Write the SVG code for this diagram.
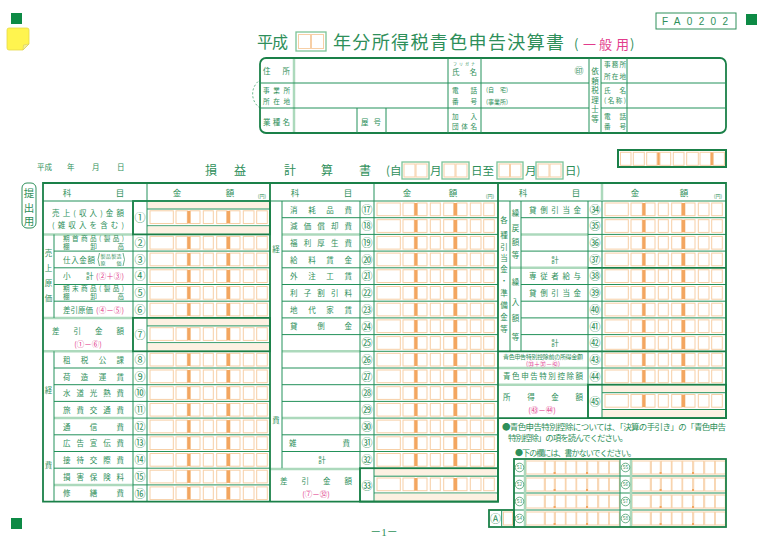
<svg xmlns="http://www.w3.org/2000/svg" width="768" height="542" viewBox="0 0 768 542">
<style>
text{font-family:"Noto Sans CJK JP","Noto Sans",sans-serif;fill:#2e8f5a}
.l{font-size:8.5px}
.s{font-size:7.5px}
.t2{font-size:6.6px}
.xs{font-size:6px}
.n{font-size:11px;text-anchor:middle}
.m{text-anchor:middle}
.pk{fill:#e23b8c}
.g{stroke:#23915a;stroke-width:1;fill:none}
.gt{stroke:#1a8048;stroke-width:1.8;fill:none}
.pl{stroke:#acd9bc;stroke-width:2.5;fill:none}
.c{fill:#fff;stroke:#f7cfa6;stroke-width:1}
.bar{fill:#f3a660}
.pe{fill:#fdf1e2}
.sq{fill:#0d8a45}
.db{fill:#fff;stroke:#7cc497;stroke-width:1.3}
</style>
<defs>
<g id="d1">
<rect class="c" x="3" y="2" width="23.3" height="12.7"/>
<rect class="c" x="29" y="2" width="11.3" height="12.7"/>
<rect class="c" x="43.3" y="2" width="9.7" height="12.7"/>
<rect class="c" x="56.3" y="2" width="10" height="12.7"/>
<rect class="c" x="69.7" y="2" width="10" height="12.7"/>
<rect class="c" x="83" y="2" width="10" height="12.7"/>
<rect class="c" x="96.3" y="2" width="10.7" height="12.7"/>
<rect class="c" x="109.7" y="2" width="10.6" height="12.7"/>
<rect class="bar" x="40.3" y="2" width="3" height="12.7"/>
<rect class="bar" x="79.7" y="2" width="3.3" height="12.7"/>
</g>
<g id="d2">
<rect class="pe" x="0.5" y="0.8" width="122" height="6.7"/>
<line class="g" x1="0" y1="8" x2="123" y2="8"/>
<use href="#d1" y="7.8"/>
<line class="g" x1="0" y1="24.8" x2="123" y2="24.8"/>
<rect class="pe" x="0.5" y="25.5" width="122" height="7.4"/>
</g>
<g id="d3">
<rect class="c" x="1" y="2" width="18.3" height="13"/>
<rect class="c" x="20.3" y="2" width="9" height="13"/>
<rect class="c" x="30.3" y="2" width="10" height="13"/>
<rect class="c" x="41" y="2" width="10" height="13"/>
<rect class="c" x="51.7" y="2" width="10" height="13"/>
<rect class="c" x="62.7" y="2" width="10" height="13"/>
<rect class="c" x="73.7" y="2" width="10" height="13"/>
<rect class="c" x="84.3" y="2" width="10" height="13"/>
<rect class="bar" x="28.6" y="13" width="2" height="2"/>
<rect class="bar" x="61" y="13" width="2" height="2"/>
</g>
</defs>

<g id="marks">
<rect class="sq" x="11" y="13" width="11" height="11"/>
<rect class="sq" x="746" y="14" width="11" height="11"/>
<rect class="sq" x="11" y="518" width="11" height="11"/>
<path d="M9,28 H27 Q29,28 29,30 V44 L23,50 H9 Q7,50 7,48 V30 Q7,28 9,28 Z" fill="#fff44f" stroke="#e6d94a" stroke-width="0.8"/>
<path d="M29,44 L23,50 L23.5,45 Z" fill="#f3ee9a" stroke="#d9cc60" stroke-width="0.6"/>
</g>

<g id="code-box">
<rect x="656" y="13" width="80" height="16" fill="none" stroke="#2e8f5a" stroke-width="1"/>
<text x="662" y="25" textLength="66" style="font-family:'Liberation Sans',sans-serif;font-size:10px">FA0202</text>
</g>

<g id="title">
<text x="257" y="48" font-size="16" textLength="31">平成</text>
<rect x="296" y="32" width="30" height="19" class="db"/>
<rect x="298.5" y="34.5" width="12" height="14" class="c"/>
<rect x="311.5" y="34.5" width="12" height="14" class="c"/>
<text x="333" y="49" font-size="18" textLength="231">年分所得税青色申告決算書</text>
<text y="49" font-size="13"><tspan x="574">(</tspan><tspan x="583" class="pk">一</tspan><tspan x="599" class="pk">般</tspan><tspan x="616" class="pk">用</tspan><tspan x="630">)</tspan></text>
</g>

<g id="info-box">
<path d="M260,108 A17,17 0 0 1 260,80" fill="none" stroke="#4aa874" stroke-width="0.9" stroke-dasharray="2,2"/>
<rect x="260" y="58" width="466" height="75" rx="6" class="gt" stroke-width="1.5"/>
<line class="pl" x1="294" y1="59" x2="294" y2="132"/>
<line class="g" x1="448" y1="58" x2="448" y2="133"/>
<line class="g" x1="481" y1="58" x2="481" y2="133"/>
<line class="g" x1="589" y1="58" x2="589" y2="133"/>
<line class="g" x1="601" y1="58" x2="601" y2="133"/>
<line class="g" x1="627" y1="58" x2="627" y2="133"/>
<line class="g" x1="260" y1="83" x2="589" y2="83"/>
<line class="g" x1="601" y1="83" x2="726" y2="83"/>
<line class="g" x1="260" y1="108" x2="589" y2="108"/>
<line class="g" x1="601" y1="108" x2="726" y2="108"/>
<line class="g" x1="357" y1="108" x2="357" y2="133"/>
<line class="g" x1="386" y1="108" x2="386" y2="133"/>
<text class="s" x="263" y="73.5" textLength="27">住所</text>
<text class="t2" x="263" y="93" textLength="27">事業所</text>
<text class="t2" x="263" y="103.5" textLength="27">所在地</text>
<text class="s" x="263" y="124.5" textLength="27">業種名</text>
<text class="s" x="361" y="124.5" textLength="20">屋号</text>
<text x="453" y="66" font-size="4" textLength="22">フリガナ</text>
<text class="s" x="452" y="75" textLength="25">氏名</text>
<text x="579" y="73.5" font-size="9" class="m">㊞</text>
<text class="t2" x="452" y="92.5" textLength="25">電話</text>
<text class="t2" x="452" y="103.5" textLength="25">番号</text>
<text class="xs" x="486" y="92" textLength="22">(自　宅)</text>
<text class="xs" x="486" y="103.5" textLength="22">(事業所)</text>
<text class="t2" x="452" y="118.5" textLength="25">加入</text>
<text class="t2" x="452" y="129" textLength="25">団体名</text>
<text class="s m" x="595" y="74">依</text>
<text class="s m" x="595" y="83.5">頼</text>
<text class="s m" x="595" y="93">税</text>
<text class="s m" x="595" y="102.5">理</text>
<text class="s m" x="595" y="112">士</text>
<text class="s m" x="595" y="121.5">等</text>
<text class="t2" x="604" y="67" textLength="22">事務所</text>
<text class="t2" x="604" y="78.5" textLength="22">所在地</text>
<text class="t2" x="604" y="92.5" textLength="22">氏名</text>
<text class="t2" x="604" y="103" textLength="22">(名称)</text>
<text class="t2" x="604" y="118.5" textLength="22">電話</text>
<text class="t2" x="604" y="129" textLength="22">番号</text>
</g>

<g id="date-line">
<text class="s" x="37" y="170">平成</text>
<text class="s" x="67" y="170">年</text>
<text class="s" x="92" y="170">月</text>
<text class="s" x="117" y="170">日</text>
<text class="m" font-size="12" x="211" y="175">損</text>
<text class="m" font-size="12" x="240" y="175">益</text>
<text class="m" font-size="12" x="290" y="175">計</text>
<text class="m" font-size="12" x="327" y="175">算</text>
<text class="m" font-size="12" x="365" y="175">書</text>
<text font-size="11.5" x="386" y="175">(自</text>
<rect x="402" y="162" width="27" height="17" class="db"/>
<rect x="404" y="164" width="11" height="13" class="c"/>
<rect x="416" y="164" width="11" height="13" class="c"/>
<text font-size="11.5" x="430" y="175">月</text>
<rect x="442" y="162" width="27" height="17" class="db"/>
<rect x="444" y="164" width="11" height="13" class="c"/>
<rect x="456" y="164" width="11" height="13" class="c"/>
<text font-size="11.5" x="471" y="175">日至</text>
<rect x="497" y="162" width="26" height="17" class="db"/>
<rect x="499" y="164" width="10.5" height="13" class="c"/>
<rect x="510.5" y="164" width="10.5" height="13" class="c"/>
<text font-size="11.5" x="525" y="175">月</text>
<rect x="536" y="162" width="27" height="17" class="db"/>
<rect x="538" y="164" width="11" height="13" class="c"/>
<rect x="550" y="164" width="11" height="13" class="c"/>
<text font-size="11.5" x="565" y="175">日)</text>
</g>

<g id="top-digits">
<rect x="618" y="150" width="108" height="17" fill="#fff" stroke="#1a8048" stroke-width="2"/>
<rect class="c" x="620.5" y="152.3" width="10.5" height="13"/>
<rect class="c" x="633.3" y="152.3" width="11" height="13"/>
<rect class="c" x="646.7" y="152.3" width="10.3" height="13"/>
<rect class="bar" x="657.3" y="152.3" width="2.7" height="13"/>
<rect class="c" x="660" y="152.3" width="10.7" height="13"/>
<rect class="c" x="673.3" y="152.3" width="10.7" height="13"/>
<rect class="c" x="686.7" y="152.3" width="11.6" height="13"/>
<rect class="c" x="700" y="152.3" width="10.7" height="13"/>
<rect class="bar" x="710.7" y="152.3" width="2.7" height="13"/>
<rect class="c" x="713.4" y="152.3" width="11" height="13"/>
</g>

<g id="submit-tag">
<rect x="22" y="183" width="14" height="45" rx="5" fill="none" stroke="#2e8f5a" stroke-width="1"/>
<text class="m" font-size="10.5" x="29" y="197">提</text>
<text class="m" font-size="10.5" x="29" y="211.5">出</text>
<text class="m" font-size="10.5" x="29" y="225">用</text>
</g>

<g id="digit-cells">
<use href="#d2" x="147" y="201"/>
<use href="#d1" x="147" y="234.4"/>
<use href="#d1" x="147" y="251.1"/>
<use href="#d1" x="147" y="267.8"/>
<use href="#d1" x="147" y="284.5"/>
<use href="#d1" x="147" y="301.2"/>
<use href="#d2" x="147" y="317.9"/>
<use href="#d1" x="147" y="351.3"/>
<use href="#d1" x="147" y="368"/>
<use href="#d1" x="147" y="384.7"/>
<use href="#d1" x="147" y="401.4"/>
<use href="#d1" x="147" y="418.1"/>
<use href="#d1" x="147" y="434.8"/>
<use href="#d1" x="147" y="451.5"/>
<use href="#d1" x="147" y="468.2"/>
<use href="#d1" x="147" y="484.9"/>
<use href="#d1" x="374" y="201"/>
<use href="#d1" x="374" y="217.7"/>
<use href="#d1" x="374" y="234.4"/>
<use href="#d1" x="374" y="251.1"/>
<use href="#d1" x="374" y="267.8"/>
<use href="#d1" x="374" y="284.5"/>
<use href="#d1" x="374" y="301.2"/>
<use href="#d1" x="374" y="317.9"/>
<use href="#d1" x="374" y="334.6"/>
<use href="#d1" x="374" y="351.3"/>
<use href="#d1" x="374" y="368"/>
<use href="#d1" x="374" y="384.7"/>
<use href="#d1" x="374" y="401.4"/>
<use href="#d1" x="374" y="418.1"/>
<use href="#d1" x="374" y="434.8"/>
<use href="#d1" x="374" y="451.5"/>
<use href="#d2" x="374" y="468.2"/>
<use href="#d1" x="602" y="201"/>
<use href="#d1" x="602" y="217.7"/>
<use href="#d1" x="602" y="234.4"/>
<use href="#d1" x="602" y="251.1"/>
<use href="#d1" x="602" y="267.8"/>
<use href="#d1" x="602" y="284.5"/>
<use href="#d1" x="602" y="301.2"/>
<use href="#d1" x="602" y="317.9"/>
<use href="#d1" x="602" y="334.6"/>
<use href="#d1" x="602" y="351.3"/>
<use href="#d1" x="602" y="368"/>
<use href="#d2" x="602" y="384.7"/>
</g>

<g id="connectors">
<line class="g" x1="54" y1="251.1" x2="270" y2="251.1"/>
<line class="g" x1="54" y1="267.8" x2="270" y2="267.8"/>
<line class="g" x1="54" y1="284.5" x2="270" y2="284.5"/>
<line class="g" x1="54" y1="301.2" x2="270" y2="301.2"/>
<line class="pl" x1="43" y1="234.4" x2="133" y2="234.4"/>
<line class="pl" x1="43" y1="317.9" x2="133" y2="317.9"/>
<line class="pl" x1="43" y1="351.3" x2="133" y2="351.3"/>
<line class="g" x1="54" y1="368" x2="270" y2="368"/>
<line class="g" x1="54" y1="384.7" x2="270" y2="384.7"/>
<line class="g" x1="54" y1="401.4" x2="270" y2="401.4"/>
<line class="pl" x1="54" y1="418.1" x2="133" y2="418.1"/>
<line class="g" x1="133" y1="418.1" x2="270" y2="418.1"/>
<line class="g" x1="54" y1="434.8" x2="270" y2="434.8"/>
<line class="g" x1="54" y1="451.5" x2="270" y2="451.5"/>
<line class="g" x1="54" y1="468.2" x2="270" y2="468.2"/>
<line class="pl" x1="54" y1="484.9" x2="133" y2="484.9"/>
<line class="g" x1="133" y1="484.9" x2="270" y2="484.9"/>
<line class="g" x1="54" y1="234.4" x2="54" y2="317.9"/>
<line class="g" x1="54" y1="351.3" x2="54" y2="501.6"/>
<line class="g" x1="133" y1="201" x2="133" y2="501.6"/>
<line class="g" x1="147" y1="183" x2="147" y2="501.6"/>
<rect class="gt" x="133" y="201" width="137" height="33.4"/>
<rect class="gt" x="133" y="317.9" width="137" height="33.4"/>
<line class="g" x1="282" y1="217.7" x2="498" y2="217.7"/>
<line class="pl" x1="282" y1="234.4" x2="360" y2="234.4"/>
<line class="g" x1="360" y1="234.4" x2="498" y2="234.4"/>
<line class="g" x1="282" y1="251.1" x2="498" y2="251.1"/>
<line class="g" x1="282" y1="267.8" x2="498" y2="267.8"/>
<line class="g" x1="282" y1="284.5" x2="498" y2="284.5"/>
<line class="g" x1="282" y1="301.2" x2="498" y2="301.2"/>
<line class="g" x1="282" y1="317.9" x2="498" y2="317.9"/>
<line class="g" x1="282" y1="334.6" x2="498" y2="334.6"/>
<line class="pl" x1="282" y1="351.3" x2="360" y2="351.3"/>
<line class="g" x1="360" y1="351.3" x2="498" y2="351.3"/>
<line class="g" x1="282" y1="368" x2="498" y2="368"/>
<line class="g" x1="282" y1="384.7" x2="498" y2="384.7"/>
<line class="g" x1="282" y1="401.4" x2="498" y2="401.4"/>
<line class="pl" x1="282" y1="418.1" x2="360" y2="418.1"/>
<line class="g" x1="360" y1="418.1" x2="498" y2="418.1"/>
<line class="g" x1="282" y1="434.8" x2="498" y2="434.8"/>
<line class="g" x1="282" y1="451.5" x2="498" y2="451.5"/>
<line class="pl" x1="270" y1="469" x2="360" y2="469"/>
<line class="g" x1="282" y1="201" x2="282" y2="468.2"/>
<line class="g" x1="360" y1="201" x2="360" y2="501.6"/>
<line class="g" x1="374" y1="183" x2="374" y2="501.6"/>
<rect class="gt" x="360" y="468.2" width="138" height="33.4"/>
<line class="g" x1="521" y1="217.7" x2="726" y2="217.7"/>
<line class="pl" x1="521" y1="234.4" x2="588" y2="234.4"/>
<line class="g" x1="588" y1="234.4" x2="726" y2="234.4"/>
<line class="g" x1="521" y1="251.1" x2="726" y2="251.1"/>
<line class="pl" x1="510" y1="267.8" x2="588" y2="267.8"/>
<line class="gt" x1="588" y1="267.8" x2="726" y2="267.8"/>
<line class="g" x1="521" y1="284.5" x2="726" y2="284.5"/>
<line class="g" x1="521" y1="301.2" x2="726" y2="301.2"/>
<line class="g" x1="521" y1="317.9" x2="726" y2="317.9"/>
<line class="g" x1="521" y1="334.6" x2="726" y2="334.6"/>
<line class="gt" x1="498" y1="351.3" x2="726" y2="351.3"/>
<line class="pl" x1="498" y1="368" x2="588" y2="368"/>
<line class="g" x1="588" y1="368" x2="726" y2="368"/>
<line class="pl" x1="498" y1="384.7" x2="588" y2="384.7"/>
<line class="g" x1="510" y1="201" x2="510" y2="351.3"/>
<line class="g" x1="521" y1="201" x2="521" y2="351.3"/>
<line class="g" x1="588" y1="201" x2="588" y2="418.1"/>
<line class="pl" x1="602" y1="184" x2="602" y2="200"/>
<line class="g" x1="602" y1="201" x2="602" y2="418.1"/>
<rect class="gt" x="588" y="384.7" width="138" height="33.4"/>
<line class="g" x1="43" y1="201" x2="726" y2="201" stroke-width="1.5"/>
<line class="gt" x1="270" y1="183" x2="270" y2="501.6"/>
<line class="gt" x1="498" y1="183" x2="498" y2="501.6"/>
<path class="gt" d="M43,183 H726 V418.1 H498 V501.6 H43 Z"/>
</g>

<g id="headers">
<text class="l m" x="67" y="195.5">科</text>
<text class="l m" x="120" y="195.5">目</text>
<text class="l m" x="177" y="195.5">金</text>
<text class="l m" x="230" y="195.5">額</text>
<text class="m" font-size="5" x="262" y="197.5">(円)</text>
<text class="l m" x="295" y="195.5">科</text>
<text class="l m" x="348" y="195.5">目</text>
<text class="l m" x="407" y="195.5">金</text>
<text class="l m" x="453" y="195.5">額</text>
<text class="m" font-size="5" x="490" y="197.5">(円)</text>
<text class="l m" x="523" y="195.5">科</text>
<text class="l m" x="576" y="195.5">目</text>
<text class="l m" x="635" y="195.5">金</text>
<text class="l m" x="684" y="195.5">額</text>
<text class="m" font-size="5" x="718" y="197.5">(円)</text>
</g>

<g id="labels-left">
<text class="s" x="52" y="215.9" textLength="72">売上(収入)金額</text>
<text class="s" x="52" y="228.2" textLength="72">(雑収入を含む)</text>
<text class="s m" x="48.5" y="256">売</text>
<text class="s m" x="48.5" y="271">上</text>
<text class="s m" x="48.5" y="286">原</text>
<text class="s m" x="48.5" y="301">価</text>
<text class="t2" x="63" y="240.6" textLength="61">期首商品(製品)</text>
<text class="t2" x="63" y="249.3" textLength="61">棚卸高</text>
<text class="s" x="63" y="262.5" textLength="32">仕入金額</text>
<path d="M99.5,253 Q96.5,259.5 99.5,266 M123,253 Q126,259.5 123,266" fill="none" stroke="#2e8f5a" stroke-width="0.7"/>
<text x="100.5" y="258.3" font-size="5" textLength="21">製品製造</text>
<text x="100.5" y="265" font-size="5" textLength="21">原　価</text>
<text class="s" x="63" y="279.4">小</text>
<text class="s" x="86" y="279.4">計</text>
<text class="s pk" x="96" y="279.4" textLength="28">(②＋③)</text>
<text class="t2" x="63" y="290.7" textLength="61">期末商品(製品)</text>
<text class="t2" x="63" y="299.4" textLength="61">棚卸高</text>
<text class="s" x="63" y="312.7" textLength="30">差引原価</text>
<text class="s pk" x="96" y="312.7" textLength="28">(④－⑤)</text>
<text class="s" x="52" y="333.5" textLength="72">差引金額</text>
<text class="s pk m" x="88" y="346.5">(①－⑥)</text>
<text class="s m" x="48.5" y="393">経</text>
<text class="s m" x="48.5" y="468">費</text>
<text class="s" x="63" y="362.8" textLength="61">租税公課</text>
<text class="s" x="63" y="379.5" textLength="61">荷造運賃</text>
<text class="s" x="63" y="396.2" textLength="61">水道光熱費</text>
<text class="s" x="63" y="412.9" textLength="61">旅費交通費</text>
<text class="s" x="63" y="429.6" textLength="61">通信費</text>
<text class="s" x="63" y="446.3" textLength="61">広告宣伝費</text>
<text class="s" x="63" y="463" textLength="61">接待交際費</text>
<text class="s" x="63" y="479.7" textLength="61">損害保険料</text>
<text class="s" x="63" y="496.4" textLength="61">修繕費</text>
<text class="n" x="140" y="222">①</text>
<text class="n" x="140" y="247">②</text>
<text class="n" x="140" y="263.7">③</text>
<text class="n" x="140" y="280.4">④</text>
<text class="n" x="140" y="297.1">⑤</text>
<text class="n" x="140" y="313.8">⑥</text>
<text class="n" x="140" y="338.9">⑦</text>
<text class="n" x="140" y="363.9">⑧</text>
<text class="n" x="140" y="380.6">⑨</text>
<text class="n" x="140" y="397.3">⑩</text>
<text class="n" x="140" y="414">⑪</text>
<text class="n" x="140" y="430.7">⑫</text>
<text class="n" x="140" y="447.4">⑬</text>
<text class="n" x="140" y="464.1">⑭</text>
<text class="n" x="140" y="480.8">⑮</text>
<text class="n" x="140" y="497.5">⑯</text>
</g>

<g id="labels-middle">
<text class="s m" x="276" y="252">経</text>
<text class="s m" x="276" y="423">費</text>
<text class="s" x="290" y="212.5" textLength="62">消耗品費</text>
<text class="s" x="290" y="229.2" textLength="62">減価償却費</text>
<text class="s" x="290" y="245.9" textLength="62">福利厚生費</text>
<text class="s" x="290" y="262.6" textLength="62">給料賃金</text>
<text class="s" x="290" y="279.3" textLength="62">外注工賃</text>
<text class="s" x="290" y="296" textLength="62">利子割引料</text>
<text class="s" x="290" y="312.7" textLength="62">地代家賃</text>
<text class="s" x="290" y="329.4" textLength="62">貸倒金</text>
<text class="s" x="289" y="446.3" textLength="61">雑費</text>
<text class="s m" x="322" y="463">計</text>
<text class="s" x="280" y="484" textLength="72">差引金額</text>
<text class="s pk m" x="316" y="497">(⑦－㉜)</text>
<text class="n" x="367" y="213.6">⑰</text>
<text class="n" x="367" y="230.3">⑱</text>
<text class="n" x="367" y="247">⑲</text>
<text class="n" x="367" y="263.7">⑳</text>
<text class="n" x="367" y="280.4">㉑</text>
<text class="n" x="367" y="297.1">㉒</text>
<text class="n" x="367" y="313.8">㉓</text>
<text class="n" x="367" y="330.5">㉔</text>
<text class="n" x="367" y="347.2">㉕</text>
<text class="n" x="367" y="363.9">㉖</text>
<text class="n" x="367" y="380.6">㉗</text>
<text class="n" x="367" y="397.3">㉘</text>
<text class="n" x="367" y="414">㉙</text>
<text class="n" x="367" y="430.7">㉚</text>
<text class="n" x="367" y="447.4">㉛</text>
<text class="n" x="367" y="464.1">㉜</text>
<text class="n" x="367" y="489.5">㉝</text>
</g>

<g id="labels-right">
<text class="s m" x="504" y="223">各</text>
<text class="s m" x="504" y="238">種</text>
<text class="s m" x="504" y="249.5">引</text>
<text class="s m" x="504" y="261">当</text>
<text class="s m" x="504" y="272">金</text>
<text class="s m" x="504" y="283.5">・</text>
<text class="s m" x="504" y="295.5">準</text>
<text class="s m" x="504" y="308">備</text>
<text class="s m" x="504" y="320">金</text>
<text class="s m" x="504" y="331.5">等</text>
<text class="s m" x="515.5" y="216">繰</text>
<text class="s m" x="515.5" y="231">戻</text>
<text class="s m" x="515.5" y="245">額</text>
<text class="s m" x="515.5" y="258">等</text>
<text class="s m" x="515.5" y="285">繰</text>
<text class="s m" x="515.5" y="305">入</text>
<text class="s m" x="515.5" y="321">額</text>
<text class="s m" x="515.5" y="340">等</text>
<text class="s" x="529" y="212.5" textLength="52">貸倒引当金</text>
<text class="s m" x="555" y="262.6">計</text>
<text class="s" x="529" y="279.3" textLength="52">専従者給与</text>
<text class="s" x="529" y="296" textLength="52">貸倒引当金</text>
<text class="s m" x="555" y="346.1">計</text>
<text x="503" y="358.5" font-size="6" textLength="80">青色申告特別控除前の所得金額</text>
<text class="pk m" x="543" y="366" font-size="6">(㉝＋㊲－㊷)</text>
<text class="s" x="503" y="379" textLength="80">青色申告特別控除額</text>
<text class="s" x="503" y="400" textLength="80">所得金額</text>
<text class="s pk m" x="542" y="413">(㊸－㊹)</text>
<text class="n" x="595" y="213.6">㉞</text>
<text class="n" x="595" y="230.3">㉟</text>
<text class="n" x="595" y="247">㊱</text>
<text class="n" x="595" y="263.7">㊲</text>
<text class="n" x="595" y="280.4">㊳</text>
<text class="n" x="595" y="297.1">㊴</text>
<text class="n" x="595" y="313.8">㊵</text>
<text class="n" x="595" y="330.5">㊶</text>
<text class="n" x="595" y="347.2">㊷</text>
<text class="n" x="595" y="363.9">㊸</text>
<text class="n" x="595" y="380.6">㊹</text>
<text class="n" x="595" y="406">㊺</text>
</g>

<g id="notes">
<text x="502" y="430" font-size="8.5" textLength="224">●青色申告特別控除については、「決算の手引き」の「青色申告</text>
<text x="508" y="440.5" font-size="8.5" textLength="120">特別控除」の項を読んでください。</text>
<text x="515" y="455.5" font-size="8" textLength="121">●下の欄には、書かないでください。</text>
</g>

<g id="office-grid">
<use href="#d3" x="525" y="459"/>
<use href="#d3" x="525" y="476"/>
<use href="#d3" x="525" y="493"/>
<use href="#d3" x="525" y="510"/>
<use href="#d3" x="631" y="459"/>
<use href="#d3" x="631" y="476"/>
<use href="#d3" x="631" y="493"/>
<use href="#d3" x="631" y="510"/>
<line class="g" x1="514" y1="476" x2="726" y2="476"/>
<line class="g" x1="514" y1="493" x2="726" y2="493"/>
<line class="g" x1="514" y1="510" x2="726" y2="510"/>
<line class="pl" x1="525" y1="460" x2="525" y2="526"/>
<line class="g" x1="620" y1="459" x2="620" y2="527"/>
<line class="pl" x1="631" y1="460" x2="631" y2="526"/>
<rect class="gt" x="514" y="459" width="212" height="68"/>
<rect class="gt" x="489" y="510" width="25" height="17"/>
<line class="g" x1="501.7" y1="510" x2="501.7" y2="527"/>
<rect class="c" x="503.5" y="512" width="9" height="13"/>
<text class="n" x="495.5" y="522.5">Ⓐ</text>
<g fill="none" stroke="#2e8f5a" stroke-width="0.7">
<circle cx="519.5" cy="467.5" r="4.3"/>
<circle cx="519.5" cy="484.5" r="4.3"/>
<circle cx="519.5" cy="501.5" r="4.3"/>
<circle cx="519.5" cy="518.5" r="4.3"/>
<circle cx="625.5" cy="467.5" r="4.3"/>
<circle cx="625.5" cy="484.5" r="4.3"/>
<circle cx="625.5" cy="501.5" r="4.3"/>
<circle cx="625.5" cy="518.5" r="4.3"/>
</g>
<g font-size="4.8" text-anchor="middle">
<text x="519.5" y="469.2">51</text>
<text x="519.5" y="486.2">52</text>
<text x="519.5" y="503.2">53</text>
<text x="519.5" y="520.2">54</text>
<text x="625.5" y="469.2">55</text>
<text x="625.5" y="486.2">56</text>
<text x="625.5" y="503.2">57</text>
<text x="625.5" y="520.2">58</text>
</g>
</g>

<g id="page-no">
<text class="m" x="384" y="536" font-size="11" style="font-family:'Liberation Serif','Noto Sans CJK JP',serif">－1－</text>
</g>
</svg>
